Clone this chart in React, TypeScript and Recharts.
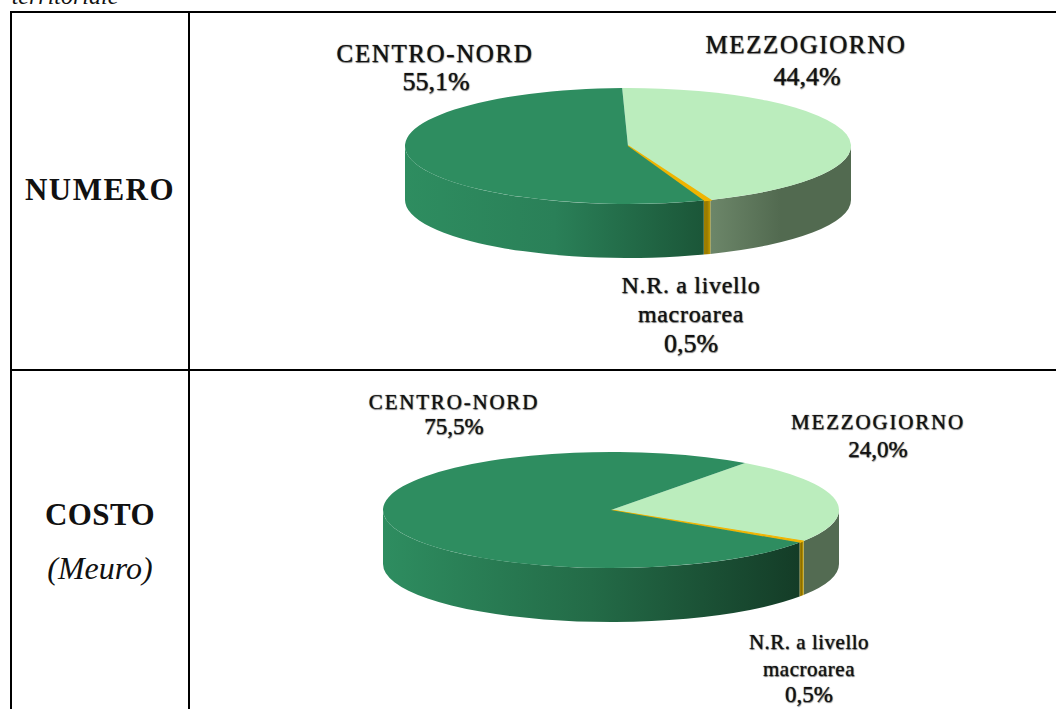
import React from "react";
import { PieChart, Pie, Cell } from "recharts";

// ---- data ----
const sliceNames = ["MEZZOGIORNO", "N.R. a livello macroarea", "CENTRO-NORD"];
const numeroValues = [44.4, 0.5, 55.1];
const costoValues = [24.0, 0.5, 75.5];

// ---- style ----
const topFills = ["#BBEDBD", "#F0B400", "#2E8D60"];
const wallNumero = [
  ["#6C8669", "#526A50", "#526A50"],
  ["#A08000", "#9A7B00", "#C49C00"],
  ["#2E8D60", "#2A8058", "#1B5638"],
];
const wallCosto = [
  ["#536B52", "#536B52", "#536B52"],
  ["#B08C00", "#8A6E00", "#D0A800"],
  ["#2E8D60", "#236B47", "#143C27"],
];

const fmt = (v: number) => v.toFixed(1).replace(".", ",") + "%";
const rows = (values: number[]) => sliceNames.map((name, i) => ({ name, value: values[i] }));

const SQUASH = 58 / 223;
const DEPTH = 54;

function make3DSlice(prefix: string, walls: string[][], ratio: number, seam: number) {
  return function Slice(props: any) {
    const { cx, cy, outerRadius: rx, startAngle, endAngle, index } = props;
    const ry = rx * ratio;
    const p = (a: number, dy = 0) => {
      const t = (a * Math.PI) / 180;
      return [cx + rx * Math.cos(t), cy - ry * Math.sin(t) + dy];
    };
    const hi = Math.max(startAngle, endAngle);
    const lo = Math.min(startAngle, endAngle);
    const large = hi - lo > 180 ? 1 : 0;
    const a = p(hi);
    const b = p(lo);
    const top = `M${cx},${cy}L${a[0]},${a[1]}A${rx},${ry} 0 ${large} 1 ${b[0]},${b[1]}Z`;
    const wHi = Math.min(hi, 0);
    const wLo = Math.max(lo, -180);
    let wall = "";
    if (wHi > wLo) {
      const w1 = p(wHi);
      const w2 = p(wLo);
      const w3 = p(wLo, DEPTH);
      const w4 = p(wHi, DEPTH);
      wall = `M${w1[0]},${w1[1]}A${rx},${ry} 0 0 1 ${w2[0]},${w2[1]}L${w3[0]},${w3[1]}A${rx},${ry} 0 0 0 ${w4[0]},${w4[1]}Z`;
    }
    const id = `${prefix}-wall-${index}`;
    const stops = walls[index];
    // left-to-right gradient on the wall; stops listed left, middle, right
    return (
      <g>
        <defs>
          <linearGradient id={id} x1="0" y1="0" x2="1" y2="0">
            <stop offset="0" stopColor={stops[0]} />
            <stop offset="0.5" stopColor={stops[1]} />
            <stop offset="1" stopColor={stops[2]} />
          </linearGradient>
        </defs>
        {wall && <path d={wall} fill={`url(#${id})`} />}
        <path
          d={top}
          fill={props.fill}
          stroke={index === 1 ? props.fill : "none"}
          strokeWidth={index === 1 ? seam : 0}
        />
      </g>
    );
  };
}

const NumeroSlice = make3DSlice("numero", wallNumero, SQUASH, 1.5);
const CostoSlice = make3DSlice("costo", wallCosto, 58 / 228, 1);

const Line = ({ x, y, w, h }: { x: number; y: number; w: number; h: number }) => (
  <div style={{ position: "absolute", left: x, top: y, width: w, height: h, background: "#000" }} />
);

const Txt = ({ cx, base, size, ls = 0, bold, italic, soft, children }: any) => (
  <div
    style={{
      position: "absolute",
      left: cx - 200,
      width: 400,
      top: base - size * 0.94,
      height: size * 1.2,
      lineHeight: `${size * 1.2}px`,
      textAlign: "center",
      fontFamily: '"Liberation Serif", serif',
      fontSize: size,
      letterSpacing: ls,
      fontWeight: bold ? 700 : 400,
      fontStyle: italic ? "italic" : "normal",
      color: "#111",
      whiteSpace: "nowrap",
      textShadow: soft ? "0 0 1px #444, 0.5px 0.5px 1px #777" : undefined,
    }}
  >
    {children}
  </div>
);

export default function App() {
  return (
    <div style={{ position: "absolute", left: 0, top: 0, width: 1056, height: 709, overflow: "hidden", background: "#fff" }}>
      <Txt cx={65} base={5} size={24} italic>territoriale</Txt>

      <Line x={10} y={11} w={1046} h={2} />
      <Line x={10} y={369} w={1046} h={2} />
      <Line x={10} y={11} w={2} h={698} />
      <Line x={188} y={11} w={2} h={698} />

      <Txt cx={100} base={200} size={31} bold ls={1.5}>NUMERO</Txt>
      <Txt cx={100} base={525} size={31} bold ls={0.4}>COSTO</Txt>
      <Txt cx={100} base={579} size={32} italic>(Meuro)</Txt>

      <div style={{ position: "absolute", left: 0, top: 0 }}>
        <PieChart width={1056} height={709} margin={{ top: 0, right: 0, bottom: 0, left: 0 }}>
          <Pie
            data={rows(numeroValues)}
            dataKey="value"
            nameKey="name"
            cx={628}
            cy={146}
            outerRadius={223}
            startAngle={91.5}
            endAngle={-268.5}
            stroke="none"
            isAnimationActive={false}
            shape={NumeroSlice}
          >
            {topFills.map((c) => (
              <Cell key={c} fill={c} />
            ))}
          </Pie>
          <Pie
            data={rows(costoValues)}
            dataKey="value"
            nameKey="name"
            cx={611}
            cy={510}
            outerRadius={228}
            startAngle={54}
            endAngle={-306}
            stroke="none"
            isAnimationActive={false}
            shape={CostoSlice}
          >
            {topFills.map((c) => (
              <Cell key={c} fill={c} />
            ))}
          </Pie>
        </PieChart>
      </div>

      <Txt soft cx={435} base={62} size={25} ls={1.6}>{sliceNames[2]}</Txt>
      <Txt soft cx={436} base={90} size={26}>{fmt(numeroValues[2])}</Txt>
      <Txt soft cx={806} base={53} size={25} ls={1.6}>{sliceNames[0]}</Txt>
      <Txt soft cx={807} base={85} size={26}>{fmt(numeroValues[0])}</Txt>
      <Txt soft cx={691} base={294} size={24} ls={0.7}>N.R. a livello</Txt>
      <Txt soft cx={691} base={323} size={24} ls={0.7}>macroarea</Txt>
      <Txt soft cx={691} base={352} size={26}>{fmt(numeroValues[1])}</Txt>

      <Txt soft cx={454} base={410} size={21} ls={1.8}>{sliceNames[2]}</Txt>
      <Txt soft cx={454} base={435} size={23}>{fmt(costoValues[2])}</Txt>
      <Txt soft cx={878} base={430} size={21} ls={1.8}>{sliceNames[0]}</Txt>
      <Txt soft cx={878} base={458} size={23}>{fmt(costoValues[0])}</Txt>
      <Txt soft cx={809} base={650} size={21} ls={0.5}>N.R. a livello</Txt>
      <Txt soft cx={809} base={677} size={21} ls={0.5}>macroarea</Txt>
      <Txt soft cx={809} base={703} size={23}>{fmt(costoValues[1])}</Txt>
    </div>
  );
}
